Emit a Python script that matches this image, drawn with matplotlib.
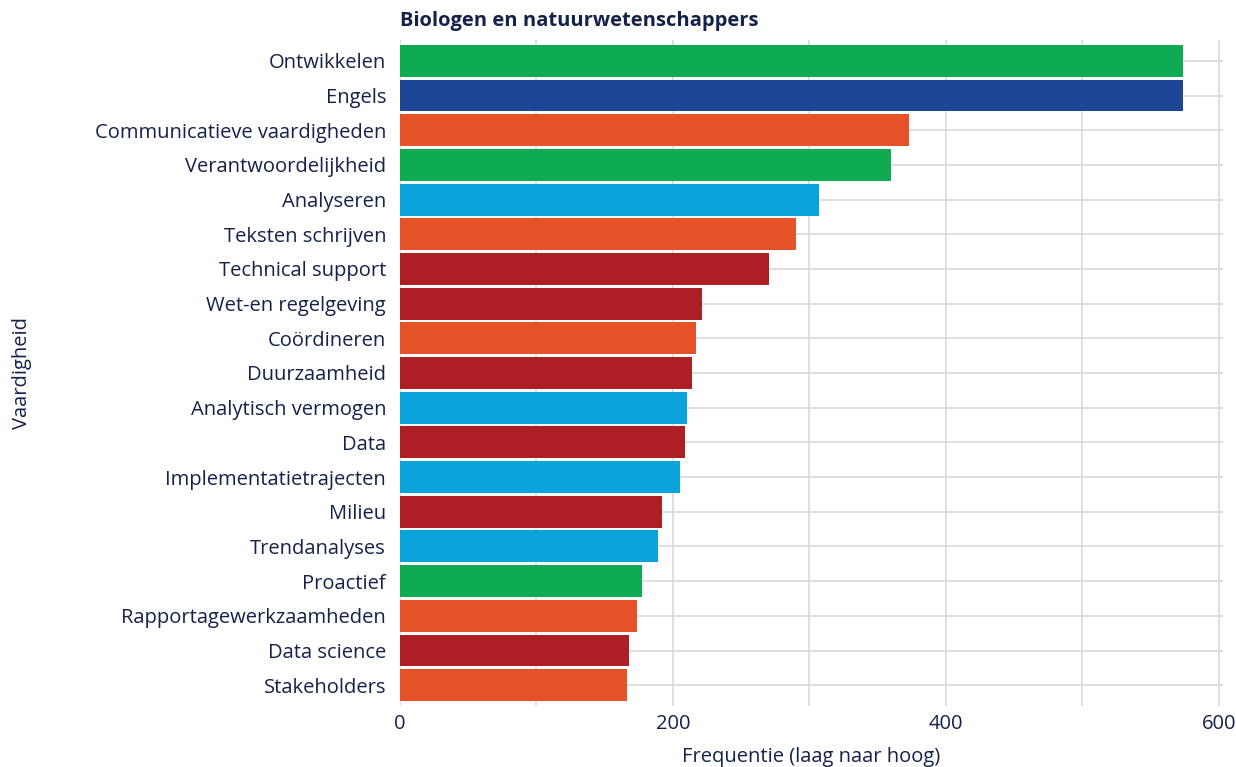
import matplotlib
matplotlib.use('Agg')
import matplotlib.pyplot as plt
from matplotlib.ticker import MultipleLocator

skills = ['Ontwikkelen', 'Engels', 'Communicatieve vaardigheden', 'Verantwoordelijkheid',
          'Analyseren', 'Teksten schrijven', 'Technical support', 'Wet-en regelgeving',
          'Coördineren', 'Duurzaamheid', 'Analytisch vermogen', 'Data',
          'Implementatietrajecten', 'Milieu', 'Trendanalyses', 'Proactief',
          'Rapportagewerkzaamheden', 'Data science', 'Stakeholders']
freq = [574, 574, 373, 360, 307, 290, 270, 221, 217, 214, 210, 209, 205, 192, 189, 177, 174, 168, 166]
group = ['groen', 'blauw', 'oranje', 'groen', 'lichtblauw', 'oranje', 'rood', 'rood',
         'oranje', 'rood', 'lichtblauw', 'rood', 'lichtblauw', 'rood', 'lichtblauw',
         'groen', 'oranje', 'rood', 'oranje']

palette = {'groen': '#0fab52', 'blauw': '#1d4696', 'oranje': '#e65228',
           'lichtblauw': '#0aa3db', 'rood': '#ad1f24'}
navy = '#14224a'

plt.rcParams['font.family'] = ['Open Sans', 'DejaVu Sans']

fig = plt.figure(figsize=(12.36, 7.67), dpi=100)
ax = fig.add_axes([400 / 1236, 1 - 706 / 767, 823 / 1236, 666 / 767])

ypos = list(range(len(skills)))
ax.barh(ypos, freq, height=0.92, color=[palette[g] for g in group], zorder=3)

ax.set_ylim(len(skills) - 0.4, -0.6)
ax.set_xlim(0, 603)
ax.set_yticks(ypos)
ax.set_yticklabels(skills, fontsize=14.5, color=navy)
ax.xaxis.set_major_locator(MultipleLocator(200))
ax.xaxis.set_minor_locator(MultipleLocator(100))
ax.tick_params(axis='x', labelsize=14.5, labelcolor=navy, length=0, which='both', pad=6)
ax.tick_params(axis='y', length=0, pad=10)
ax.grid(True, which='both', axis='x', color='#d9d9d9', linewidth=1.2, zorder=0)
ax.grid(True, which='major', axis='y', color='#d9d9d9', linewidth=1.2, zorder=0)
for s in ax.spines.values():
    s.set_visible(False)

ax.set_xlabel('Frequentie (laag naar hoog)', fontsize=14.5, color=navy, labelpad=9)
ax.set_ylabel('Vaardigheid', fontsize=14.5, color=navy)
ax.yaxis.set_label_coords(-0.447, 0.5)
fig.text(400 / 1236, 1 - 21 / 767, 'Biologen en natuurwetenschappers', fontsize=14.5,
         fontweight='bold', color=navy, ha='left', va='center')

plt.savefig('out.png', dpi=100)
